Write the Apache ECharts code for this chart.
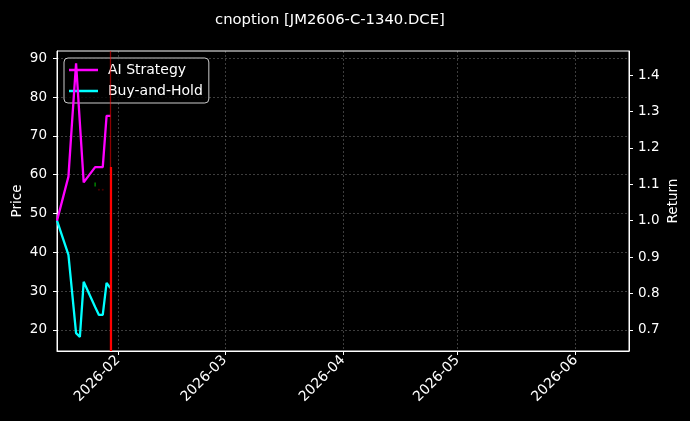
<!DOCTYPE html>
<html>
<head>
<meta charset="utf-8">
<script src="https://cdn.jsdelivr.net/npm/echarts@6/dist/echarts.min.js"></script>
<style>
html,body{margin:0;padding:0;background:#000;}
#main{width:690px;height:421px;}
</style>
</head>
<body>
<div id="main"></div>
<script>
// 数据
var dates = ['2026-01-16','2026-01-19','2026-01-20','2026-01-21','2026-01-22','2026-01-23',
             '2026-01-26','2026-01-27','2026-01-28','2026-01-29','2026-01-30'];
var aiStrategy = [1.0, 1.121, 1.279, 1.432, 1.268, 1.105, 1.147, 1.147, 1.147, 1.288, 1.288];
var buyHold    = [1.0, 0.906, 0.799, 0.691, 0.681, 0.832, 0.763, 0.741, 0.741, 0.829, 0.815];
var priceTicks = [20, 30, 40, 50, 60, 70, 80, 90];
var returnTicks = [0.7, 0.8, 0.9, 1.0, 1.1, 1.2, 1.3, 1.4];
var buyMarks = [['2026-01-26', 57.5]];
var sellMarks = [['2026-01-27', 56.1], ['2026-01-28', 56.1]];
var signalDate = '2026-01-30';
var signalLevel = 62;

function localTs(s){
  var p = s.split('-');
  return +new Date(+p[0], +p[1]-1, +p[2]);
}

var myChart = echarts.init(document.getElementById('main'));
var font = 'DejaVu Sans';
var gridLine = {show:true, lineStyle:{color:'rgba(255,255,255,0.3)', type:[2,2], width:0.8}};

var option = {
  backgroundColor: '#000',
  animation: false,
  title: {
    text: 'cnoption [JM2606-C-1340.DCE]',
    left: 210, top: 8,
    textStyle: {color:'#fff', fontSize:14.8, fontWeight:'normal', fontFamily:font}
  },
  legend: {
    data: ['AI Strategy','Buy-and-Hold'],
    orient: 'vertical',
    left: 64, top: 58,
    backgroundColor: 'rgba(0,0,0,0.8)',
    borderColor: '#ccc', borderWidth: 1, borderRadius: 4,
    padding: [5,6,5,5],
    icon: 'rect', itemWidth: 29, itemHeight: 2.5, itemGap: 7,
    textStyle: {color:'#fff', fontSize:14, fontFamily:font, lineHeight:14, padding:[0,0,0,5]}
  },
  grid: {left:57, right:61, top:51, bottom:70, show:true, borderColor:'#fff', borderWidth:1,
         outerBoundsMode:'none', containLabel:false},
  xAxis: {
    type: 'time',
    min: localTs('2026-01-16'), max: localTs('2026-06-15'),
    splitNumber: 5,
    axisLine: {lineStyle:{color:'#fff', width:1}},
    axisTick: {show:true, length:4, lineStyle:{color:'#fff'}},
    axisLabel: {
      color:'#fff', fontSize:14, fontFamily:font, rotate:45, margin:7,
      showMinLabel: false, showMaxLabel: false,
      formatter: function(v){ return echarts.time.format(v, '{yyyy}-{MM}', false); }
    },
    splitLine: gridLine
  },
  yAxis: [
    {
      type: 'value', name: 'Price', nameLocation: 'middle', nameGap: 33, nameMoveOverlap: false,
      nameTextStyle: {color:'#fff', fontSize:13.5, fontFamily:font},
      min: 14.56, max: 91.9,
      axisLine: {show:true, lineStyle:{color:'#fff'}},
      axisTick: {show:true, length:4, lineStyle:{color:'#fff'}, customValues: priceTicks},
      axisLabel: {color:'#fff', fontSize:13.5, fontFamily:font, margin:10, customValues: priceTicks},
      splitLine: gridLine
    },
    {
      type: 'value', name: 'Return', nameLocation: 'middle', nameGap: 37, nameMoveOverlap: false,
      nameTextStyle: {color:'#fff', fontSize:13.5, fontFamily:font},
      min: 0.642, max: 1.466, position: 'right',
      axisLine: {show:true, lineStyle:{color:'#fff'}},
      axisTick: {show:true, length:4, lineStyle:{color:'#fff'}, customValues: returnTicks},
      axisLabel: {color:'#fff', fontSize:13.5, fontFamily:font, margin:9, customValues: returnTicks,
                  formatter: function(v){ return v.toFixed(1); }},
      splitLine: {show:false}
    }
  ],
  series: [
    {
      name: 'AI Strategy', type: 'line', yAxisIndex: 1, showSymbol: false, z: 4,
      data: dates.map(function(d,i){ return [localTs(d), aiStrategy[i]]; }),
      lineStyle: {color:'#ff00ff', width:2.3}, itemStyle: {color:'#ff00ff'}
    },
    {
      name: 'Buy-and-Hold', type: 'line', yAxisIndex: 1, showSymbol: false, z: 3,
      data: dates.map(function(d,i){ return [localTs(d), buyHold[i]]; }),
      lineStyle: {color:'#00ffff', width:2.3}, itemStyle: {color:'#00ffff'}
    },
    {
      name: 'buy', type: 'scatter', yAxisIndex: 0, symbol: 'rect', symbolSize: [1.5,4],
      data: buyMarks.map(function(m){ return [localTs(m[0]), m[1]]; }),
      itemStyle: {color:'#00a000'}, silent: true,
      markLine: {
        silent: true, symbol: 'none', label: {show:false},
        data: [
          {xAxis: localTs(signalDate), lineStyle: {color:'#ff0000', width:1.3, opacity:0.55, type:'solid'}},
          [{coord: [localTs(signalDate), signalLevel], lineStyle: {color:'#ff0000', width:2.2, opacity:1, type:'solid'}},
           {coord: [localTs(signalDate), 14.56]}]
        ]
      }
    },
    {
      name: 'sell', type: 'scatter', yAxisIndex: 0, symbol: 'circle', symbolSize: 2,
      data: sellMarks.map(function(m){ return [localTs(m[0]), m[1]]; }),
      itemStyle: {color:'#5a0000'}, silent: true
    }
  ]
};
myChart.setOption(option);
</script>
</body>
</html>
